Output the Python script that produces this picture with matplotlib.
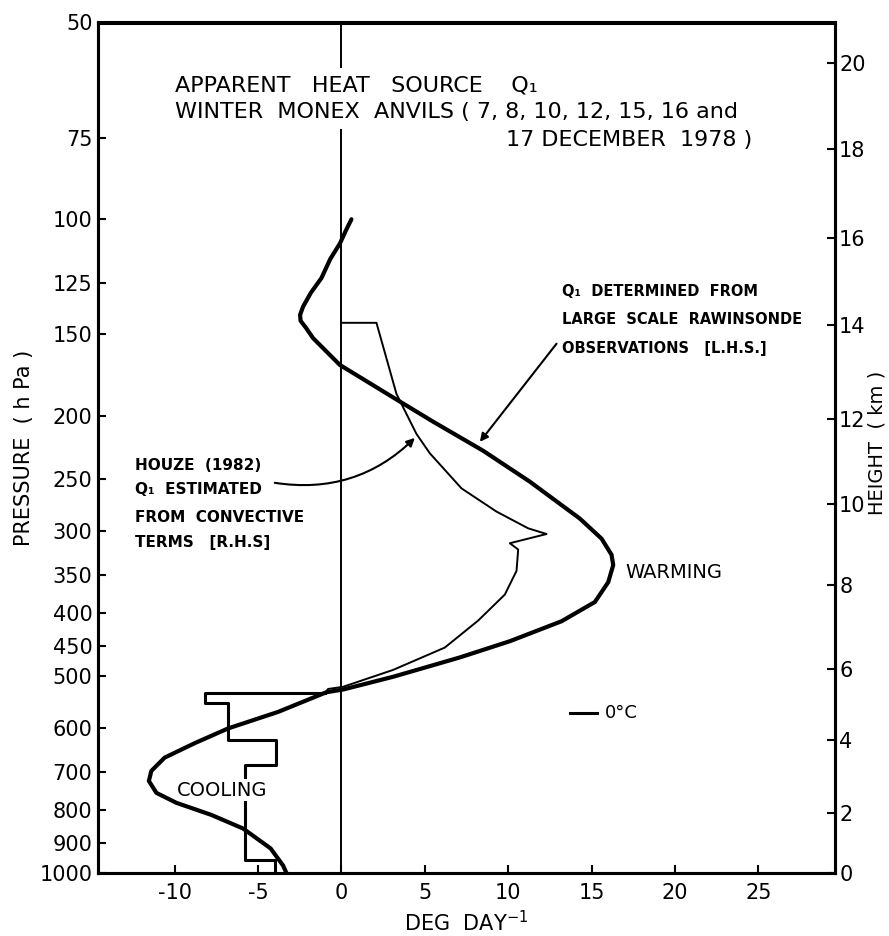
import numpy as np
import matplotlib.pyplot as plt

plt.rcParams['font.family'] = ['DejaVu Sans']
plt.rcParams['axes.unicode_minus'] = False

# axis ticks
p_ticks = [50, 75, 100, 125, 150, 200, 250, 300, 350, 400, 450, 500, 600, 700, 800, 900, 1000]
x_ticks = [-10, -5, 0, 5, 10, 15, 20, 25]
# height scale on the right (km) and the pressure level (hPa) each label sits at
h_ticks = [0, 2, 4, 6, 8, 10, 12, 14, 16, 18, 20]
h_ticks_p = [1000, 809, 627, 488, 363, 273, 202, 145, 107, 78, 57.6]

# Q1 from large scale rawinsonde observations (thick curve, L.H.S.)
q1_obs = [0.6, 0.27, -0.1, -0.67, -1.2, -1.83, -2.3, -2.48, -2.45, -2.14, -1.7, -0.1,
          3.5, 5.5, 8.5, 11.3, 14.3, 15.6, 16.2, 16.3, 16.0, 15.2, 13.2, 10.1,
          7.1, 3.1, 0.1, -0.9, -3.8, -6.8, -8.8, -10.6, -11.4, -11.55, -11.1,
          -9.9, -7.8, -5.9, -4.25, -3.5, -3.3]
p_obs = [100, 104, 109, 115, 123, 129.5, 136, 140, 143, 146.4, 152, 167,
         190, 204, 226, 252, 287, 308, 326, 338, 359, 385, 412, 442,
         468, 501, 524, 529, 567, 601, 633, 666, 698, 723, 754,
         781, 815, 855, 917, 974, 1000]

# Houze (1982) Q1 from convective terms (thin curve, R.H.S.)
q1_houze = [0.0, 2.1, 3.3, 4.5, 5.3, 7.2, 9.3, 11.2, 12.3, 10.1, 10.6, 10.5,
            9.8, 8.2, 6.2, 3.1, 0.1, -0.8, -1.0]
p_houze = [144, 144, 185, 213, 228, 258, 280, 297, 303, 313, 320, 345,
           375, 411, 452, 489, 519, 523, 531]

# lower part of Houze profile given as layer means
step_bounds = [531, 550, 627, 684, 955, 1000]
step_vals = [-8.2, -6.8, -3.9, -5.8, -4.0]

# 0 deg C level marker
frz_p = 570
frz_x = [13.7, 15.3]

fig = plt.figure(figsize=(8.89, 9.36), dpi=100)
ax = fig.add_axes([98 / 889, 63 / 936, 737 / 889, 850.5 / 936])

def fig_xy(x, y):
    # pixel position (from top-left) -> figure fraction
    return x / 889, 1 - y / 936

ax.set_yscale('log')
ax.set_ylim(1000, 50)
ax.set_xlim(-14.6, 29.6)

ax.axvline(0, color='black', lw=1.4, zorder=1)

ax.plot(q1_obs, p_obs, color='black', lw=3.0, solid_capstyle='round',
        solid_joinstyle='round', zorder=4)
ax.plot(q1_houze, p_houze, color='black', lw=1.4, zorder=3)

# build the step outline from layer bounds and values
sx = [q1_houze[-1]]
sy = [step_bounds[0]]
for i, v in enumerate(step_vals):
    sx += [v, v]
    sy += [step_bounds[i], step_bounds[i + 1]]
ax.plot(sx, sy, color='black', lw=2.2, zorder=2)

ax.plot(frz_x, [frz_p, frz_p], color='black', lw=2.2)
ax.text(frz_x[1] + 0.5, frz_p, '0°C', fontsize=13, va='center', ha='left')

# ticks
ax.set_yticks(p_ticks)
ax.set_yticklabels([str(p) for p in p_ticks])
ax.yaxis.set_minor_locator(plt.NullLocator())
ax.set_xticks(x_ticks)
ax.set_xticklabels([str(x) for x in x_ticks])
ax.tick_params(axis='both', direction='in', length=6, width=1.5, labelsize=15)
ax.tick_params(axis='y', pad=4)
ax.tick_params(axis='x', pad=7)

ax2 = ax.twinx()
ax2.set_yscale('log')
ax2.set_ylim(1000, 50)
ax2.set_yticks(h_ticks_p)
ax2.set_yticklabels([str(h) for h in h_ticks])
ax2.yaxis.set_minor_locator(plt.NullLocator())
ax2.tick_params(axis='y', direction='in', length=6, width=1.5, labelsize=15, pad=3)

for a in (ax, ax2):
    for s in a.spines.values():
        s.set_linewidth(2.2)

fig.text(*fig_xy(24, 448), 'PRESSURE  ( h Pa )', fontsize=15, rotation=90,
         ha='center', va='center')
fig.text(*fig_xy(877, 443), 'HEIGHT  ( km )', fontsize=14, rotation=90,
         ha='center', va='center')
ax.set_xlabel('DEG  DAY$^{-1}$', fontsize=15, labelpad=5)

# title block
white = dict(facecolor='white', edgecolor='none', pad=5)
ftr = fig.transFigure
ax.text(*fig_xy(175, 85), 'APPARENT   HEAT   SOURCE    Q₁', fontsize=16,
        va='center', ha='left', bbox=white, zorder=5, transform=ftr)
ax.text(*fig_xy(175, 112), 'WINTER  MONEX  ANVILS ( 7, 8, 10, 12, 15, 16 and',
        fontsize=16, va='center', ha='left', bbox=white, zorder=5, transform=ftr)
ax.text(*fig_xy(752, 140), '17 DECEMBER  1978 )', fontsize=16,
        va='center', ha='right', zorder=5, transform=ftr)

# annotations
ax.annotate('', xy=(8.3, 219), xytext=(12.9, 155),
            arrowprops=dict(arrowstyle='-|>', color='black', lw=1.5,
                            mutation_scale=12, shrinkA=0, shrinkB=0))
for txt, y in [('Q₁  DETERMINED  FROM', 292),
               ('LARGE  SCALE  RAWINSONDE', 320),
               ('OBSERVATIONS   [L.H.S.]', 348)]:
    fig.text(*fig_xy(562, y), txt, fontsize=10.5, fontweight='bold',
             va='center', ha='left')

ax.annotate('', xy=(4.4, 216), xytext=(-4.0, 253),
            arrowprops=dict(arrowstyle='-|>', color='black', lw=1.5,
                            mutation_scale=12, shrinkA=0, shrinkB=0,
                            connectionstyle='arc3,rad=0.25'))
for txt, y in [('HOUZE  (1982)', 465),
               ('Q₁  ESTIMATED', 490),
               ('FROM  CONVECTIVE', 517),
               ('TERMS   [R.H.S]', 542)]:
    fig.text(*fig_xy(135, y), txt, fontsize=11, fontweight='bold',
             va='center', ha='left')

fig.text(*fig_xy(625, 572), 'WARMING', fontsize=14, va='center', ha='left')
ax.text(*fig_xy(177, 790), 'COOLING', fontsize=14, va='center', ha='left',
        bbox=dict(facecolor='white', edgecolor='none', pad=1), zorder=3,
        transform=ftr)

fig.savefig('out.png', dpi=100, facecolor='white')
